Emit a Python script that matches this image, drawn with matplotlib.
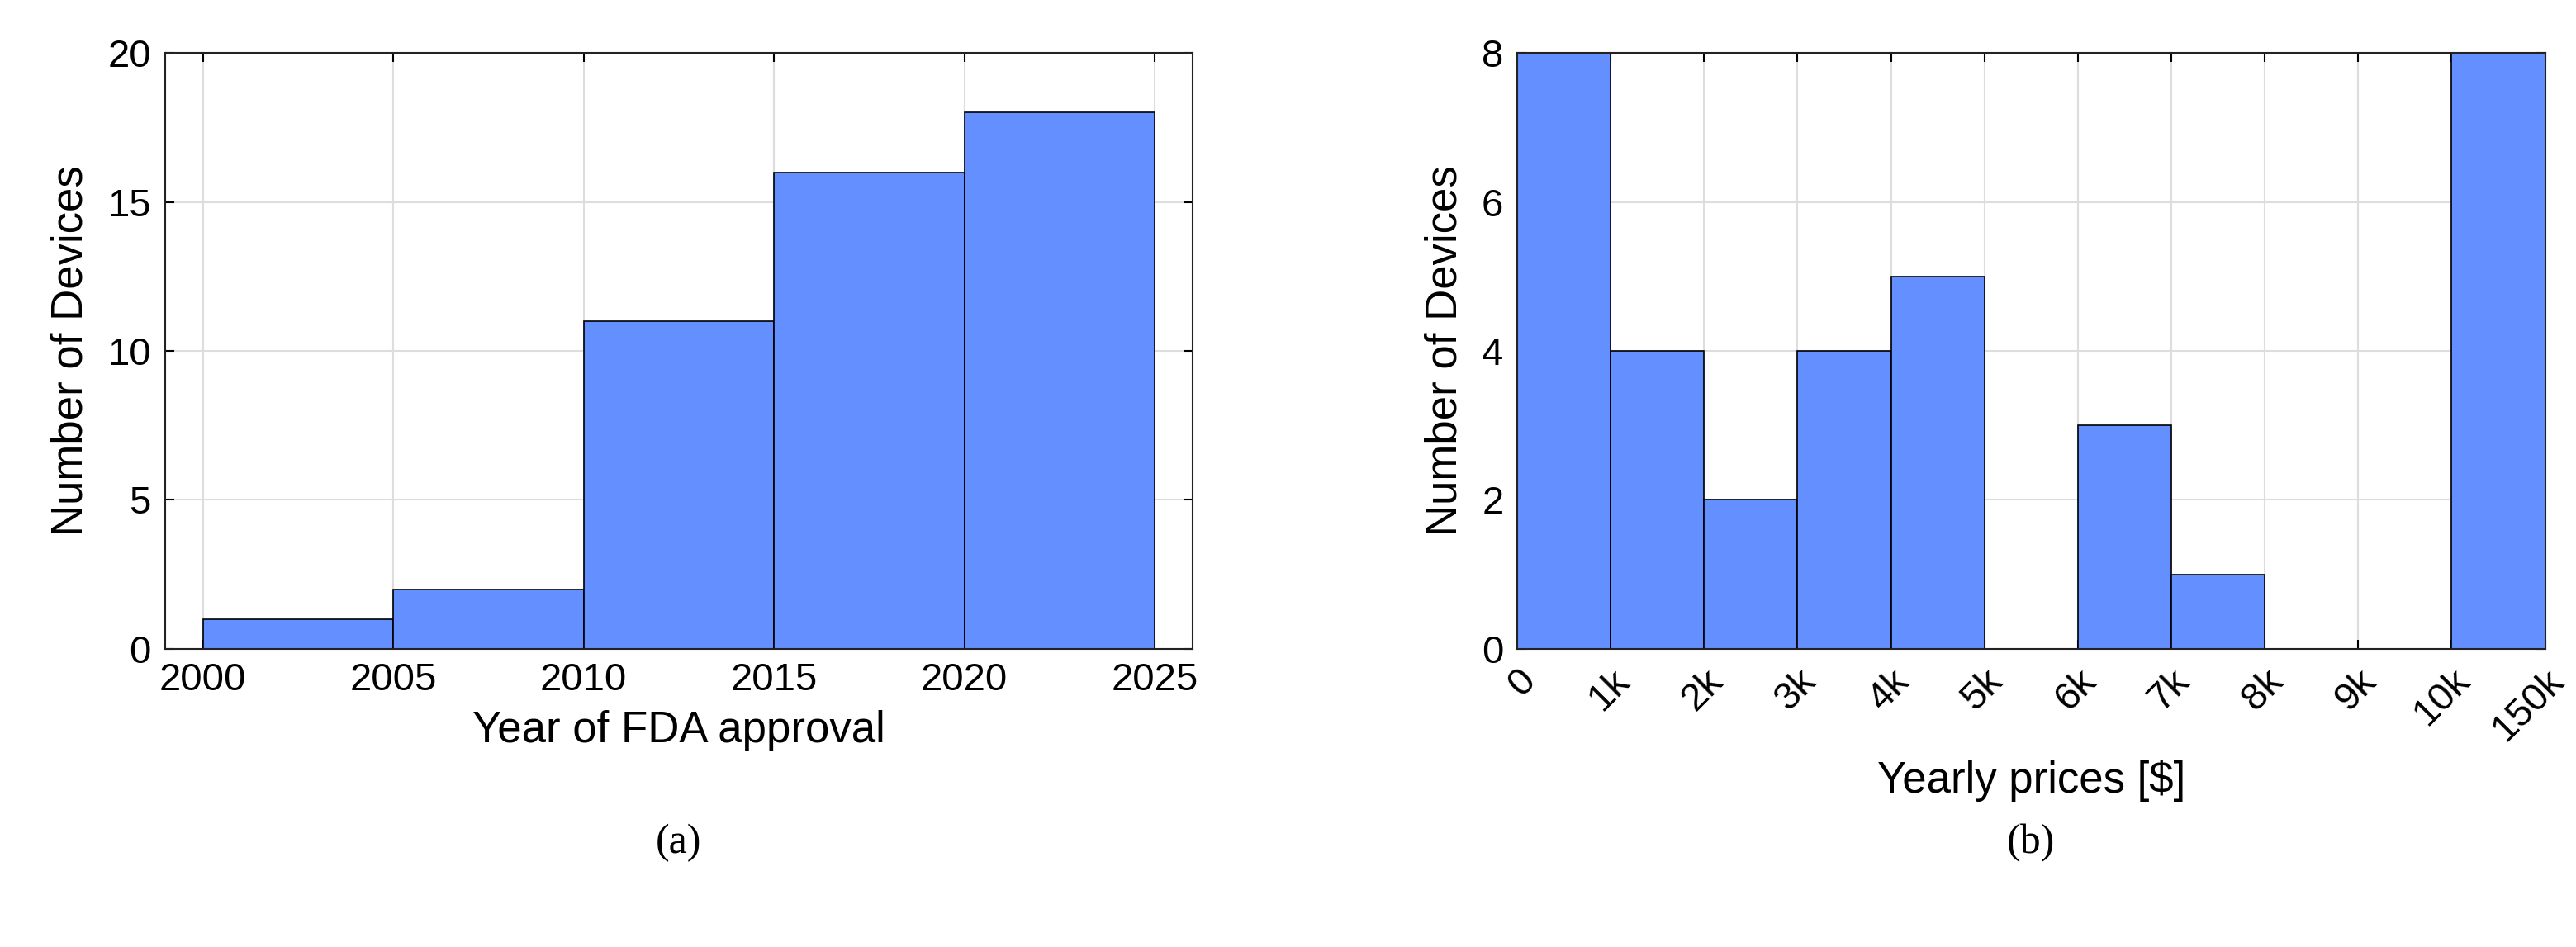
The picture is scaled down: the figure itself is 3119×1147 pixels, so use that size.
import matplotlib.pyplot as plt

plt.rcParams['font.family'] = ['Liberation Sans', 'DejaVu Sans']

# panel (a): approvals per 5-year bin
year_edges = [2000, 2005, 2010, 2015, 2020, 2025]
year_counts = [1, 2, 11, 16, 18]

# panel (b): yearly prices, bins on categorical positions
price_labels = ['0', '1k', '2k', '3k', '4k', '5k', '6k', '7k', '8k', '9k', '10k', '150k']
price_counts = [8, 4, 2, 4, 5, 0, 3, 1, 0, 0, 8]

blue = '#648FFF'

fig = plt.figure(figsize=(31.19, 11.47), dpi=100)
ax1 = fig.add_axes([0.064, 0.315, 0.399, 0.629])
ax2 = fig.add_axes([0.589, 0.315, 0.399, 0.629])


def style(ax):
    ax.grid(True, color='#dddddd', linewidth=1.5)
    ax.set_axisbelow(True)
    ax.tick_params(direction='in', top=True, right=True, labelsize=34, length=8, width=1.5, pad=12)
    for s in ax.spines.values():
        s.set_linewidth(1.5)
        s.set_color('#222222')


widths = [b - a for a, b in zip(year_edges[:-1], year_edges[1:])]
ax1.bar(year_edges[:-1], year_counts, width=widths, align='edge', color=blue, edgecolor='black', linewidth=1.2)
ax1.set_xlim(1999, 2026)
ax1.set_ylim(0, 20)
ax1.set_xticks(year_edges)
ax1.set_yticks([0, 5, 10, 15, 20])
style(ax1)
ax1.set_xlabel('Year of FDA approval', fontsize=38, labelpad=10)
ax1.set_ylabel('Number of Devices', fontsize=38, labelpad=14)

ax2.bar(range(len(price_counts)), price_counts, width=1, align='edge', color=blue, edgecolor='black', linewidth=1.2)
ax2.set_xlim(0, len(price_labels) - 1)
ax2.set_ylim(0, 8)
ax2.set_xticks(range(len(price_labels)))
ax2.set_xticklabels(price_labels, rotation=45, ha='right', rotation_mode='anchor')
ax2.set_yticks([0, 2, 4, 6, 8])
style(ax2)
ax2.set_xlabel('Yearly prices [$]', fontsize=38, labelpad=10)
ax2.set_ylabel('Number of Devices', fontsize=38, labelpad=14)

fig.text(0.2635, 0.11, '(a)', fontsize=36, family='Liberation Serif', ha='center', va='center')
fig.text(0.7885, 0.11, '(b)', fontsize=36, family='Liberation Serif', ha='center', va='center')

fig.savefig('out.png', dpi=100)
